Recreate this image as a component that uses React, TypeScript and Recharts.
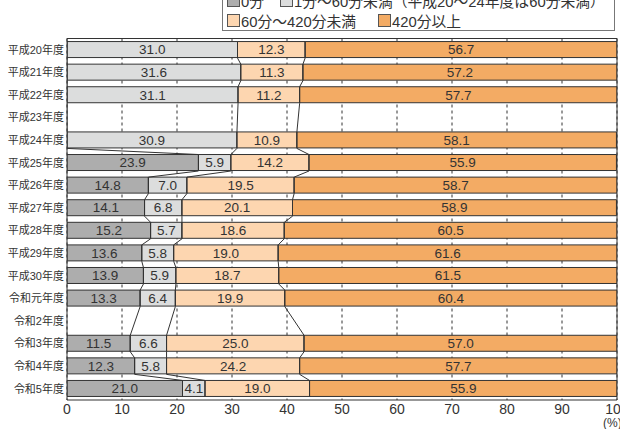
import {
  Bar,
  CartesianGrid,
  ComposedChart,
  LabelList,
  ReferenceLine,
  Scatter,
  XAxis,
  YAxis,
} from "recharts";

const years = [
  "平成20年度", "平成21年度", "平成22年度", "平成23年度", "平成24年度",
  "平成25年度", "平成26年度", "平成27年度", "平成28年度", "平成29年度",
  "平成30年度", "令和元年度", "令和2年度", "令和3年度", "令和4年度", "令和5年度",
];

// null = no survey that year (or category not split out, 平成20〜24)
const zeroMin = [null, null, null, null, null, 23.9, 14.8, 14.1, 15.2, 13.6, 13.9, 13.3, null, 11.5, 12.3, 21.0];
const under60 = [31.0, 31.6, 31.1, null, 30.9, 5.9, 7.0, 6.8, 5.7, 5.8, 5.9, 6.4, null, 6.6, 5.8, 4.1];
const under420 = [12.3, 11.3, 11.2, null, 10.9, 14.2, 19.5, 20.1, 18.6, 19.0, 18.7, 19.9, null, 25.0, 24.2, 19.0];
const over420 = [56.7, 57.2, 57.7, null, 58.1, 55.9, 58.7, 58.9, 60.5, 61.6, 61.5, 60.4, null, 57.0, 57.7, 55.9];

const xTicks = [0, 10, 20, 30, 40, 50, 60, 70, 80, 90, 100];

const seriesKeys = ["zero", "u60", "u420", "o420"];
const seriesColors = ["#adadad", "#dcdddd", "#fdd6b0", "#f3ab64"];
const legendLabels = [
  "0分",
  "1分〜60分未満（平成20〜24年度は60分未満）",
  "60分〜420分未満",
  "420分以上",
];

const GAP = 0.135; // barCategoryGap as a fraction of the band
const HALF = 0.5 - GAP; // half bar thickness in row units

const rows = years.map((year, i) => ({
  year,
  zero: zeroMin[i],
  u60: under60[i],
  u420: under420[i],
  o420: over420[i],
}));

// boundary lines between bars: cumulative share after the first k series
const connectors = [1, 2, 3].map((k) =>
  years.flatMap((_, i) => {
    if (under60[i] == null) return [];
    const parts = [zeroMin[i] ?? 0, under60[i] ?? 0, under420[i] ?? 0].slice(0, k);
    const v = parts.reduce((a, b) => a + b, 0);
    return [
      { pos: i - HALF, v },
      { pos: i + HALF, v },
    ];
  })
);

const boundaryTicks = Array.from({ length: years.length + 1 }, (_, i) => i - 0.5);

const font = '"Liberation Sans", "Noto Sans CJK JP", sans-serif';
const ink = "#333";

const legendPos = [
  { left: 4, top: 0 },
  { left: 57, top: 0 },
  { left: 4, top: 20 },
  { left: 155, top: 20 },
];

function Legend() {
  return (
    <div
      style={{
        position: "absolute",
        left: 222,
        top: -11,
        width: 391,
        height: 40,
        border: "1px solid #777",
        background: "#fff",
        fontSize: 14.8,
        color: ink,
      }}
    >
      {legendLabels.map((label, i) => (
        <div
          key={label}
          style={{
            position: "absolute",
            left: legendPos[i].left,
            top: legendPos[i].top,
            height: 20,
            display: "flex",
            alignItems: "center",
            whiteSpace: "nowrap",
          }}
        >
          <span
            style={{
              display: "inline-block",
              width: 11,
              height: 11,
              border: "1px solid #555",
              background: seriesColors[i],
              marginRight: 1,
            }}
          />
          <span>{label}</span>
        </div>
      ))}
    </div>
  );
}

const fmt = (v: unknown) => (v == null ? "" : Number(v).toFixed(1));

export default function App() {
  return (
    <div
      style={{
        position: "absolute",
        left: 0,
        top: 0,
        width: 620,
        height: 429,
        overflow: "hidden",
        background: "#fff",
        fontFamily: font,
      }}
    >
      <ComposedChart
        width={620}
        height={429}
        data={rows}
        layout="vertical"
        margin={{ top: 38.5, right: 3, bottom: 0, left: 0 }}
        barCategoryGap={`${GAP * 100}%`}
      >
        <CartesianGrid
          horizontal={false}
          yAxisId="cat"
          stroke={ink}
          strokeDasharray="3 3"
        />
        <XAxis
          type="number"
          domain={[0, 100]}
          allowDataOverflow
          ticks={xTicks}
          interval={0}
          height={29}
          tickLine={false}
          tickSize={0}
          tickMargin={4}
          axisLine={{ stroke: ink }}
          tick={{ fontSize: 14, fill: ink }}
        />
        <XAxis
          xAxisId="lx"
          type="number"
          dataKey="v"
          domain={[0, 100]}
          allowDataOverflow
          hide
        />
        {/* zero-width axis against the plot: small ticks at row boundaries */}
        <YAxis
          yAxisId="num"
          type="number"
          dataKey="pos"
          domain={[-0.5, years.length - 0.5]}
          allowDataOverflow
          ticks={boundaryTicks}
          interval={0}
          width={0}
          tickSize={3}
          tick={false}
          tickLine={{ stroke: ink }}
          axisLine={false}
        />
        <YAxis
          yAxisId="cat"
          type="category"
          dataKey="year"
          width={67}
          interval={0}
          tickLine={false}
          tickSize={0}
          tickMargin={3}
          axisLine={{ stroke: ink }}
          tick={{ fontSize: 11, fill: ink }}
        />
        {seriesKeys.map((key, i) => (
          <Bar
            key={key}
            dataKey={key}
            stackId="s"
            yAxisId="cat"
            fill={seriesColors[i]}
            stroke={ink}
            strokeWidth={1}
            isAnimationActive={false}
          >
            <LabelList
              dataKey={key}
              position="center"
              formatter={fmt}
              fill={ink}
              stroke="none"
              fontSize={13.5}
            />
          </Bar>
        ))}
        {connectors.map((pts, k) => (
          <Scatter
            key={k}
            data={pts}
            xAxisId="lx"
            yAxisId="num"
            line={{ stroke: ink, strokeWidth: 1 }}
            shape={() => <g />}
            isAnimationActive={false}
          />
        ))}
        <ReferenceLine yAxisId="num" y={-0.5} stroke={ink} ifOverflow="visible" />
        <ReferenceLine yAxisId="num" x={100} stroke={ink} ifOverflow="visible" />
      </ComposedChart>
      <Legend />
      <div
        style={{
          position: "absolute",
          left: 603,
          top: 416,
          fontSize: 12,
          color: ink,
          whiteSpace: "nowrap",
        }}
      >
        (%)
      </div>
    </div>
  );
}
